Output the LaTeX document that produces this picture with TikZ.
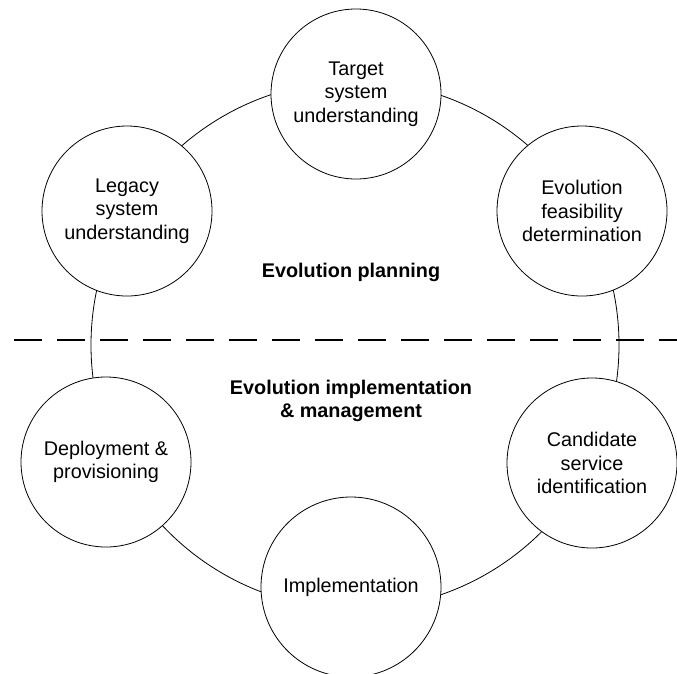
\documentclass[tikz,border=0pt]{standalone}
\usepackage{fontspec}
\setmainfont{Liberation Sans}
\begin{document}
\begin{tikzpicture}[x=1pt,y=-1pt,
  stage/.style={circle,draw=black,line width=0.8pt,fill=white,minimum size=170pt,inner sep=0pt,align=center,font=\fontsize{19.8}{23.5}\selectfont},
  phase/.style={align=center,font=\fontsize{19.8}{23.5}\selectfont\bfseries},
  ring/.style={circle,draw=black,line width=0.8pt,minimum size=528pt,inner sep=0pt},
  divider/.style={line width=1.8pt,dash pattern=on 28pt off 15pt}]
\useasboundingbox (0,0) rectangle (677,673);
\node[ring] (cycle) at (355,345) {};
\node[stage] (target) at (356,94) {Target\\system\\understanding};
\node[stage] (legacy) at (127,211) {Legacy\\system\\understanding};
\node[stage] (feas) at (582,211) {Evolution\\feasibility\\determination};
\node[stage] (deploy) at (106,462) {Deployment \&\\provisioning};
\node[stage] (cand) at (592,463) {Candidate\\service\\identification};
\node[stage,minimum size=180pt] (impl) at (351,587) {Implementation};
\node[phase] (plan) at (351,272) {Evolution planning};
\node[phase] (manage) at (351,401) {Evolution implementation\\\& management};
\coordinate (dl) at (14,340);
\coordinate (dr) at (680,340);
\draw[divider] (dl) -- (dr);
\end{tikzpicture}
\end{document}
